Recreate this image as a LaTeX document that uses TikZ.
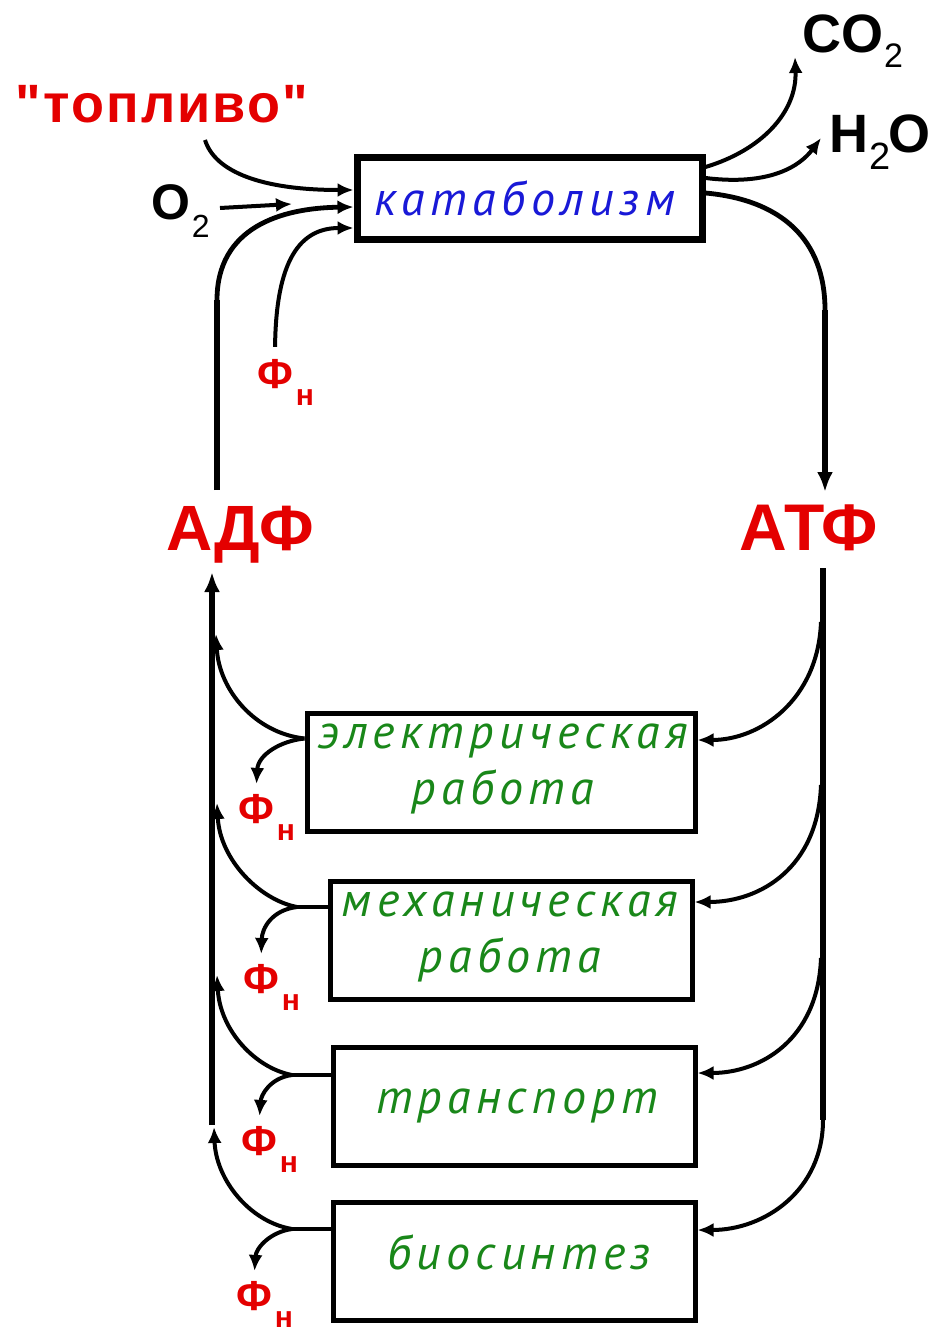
\documentclass[tikz,border=0pt]{standalone}
\usepackage{fontspec}
\setmainfont{Liberation Sans}
\newfontfamily\workfont[LetterSpace=11]{PT Sans}
\newfontfamily\katfont[LetterSpace=12]{PT Sans}
\newfontfamily\fuelfont[Ligatures=TeXOff, LetterSpace=4]{Liberation Sans}
\usetikzlibrary{arrows.meta,calc}
\definecolor{lblred}{RGB}{228,0,0}
\definecolor{katblue}{RGB}{25,25,215}
\definecolor{workgreen}{RGB}{25,135,25}

\begin{document}
\begin{tikzpicture}[x=0.5pt,y=-0.5pt,
  lbl/.style={inner sep=0pt, outer sep=0pt},
  box/.style={draw, line width=2.5pt, inner sep=0pt, minimum width=181pt, minimum height=59pt},
  wire/.style={line width=2pt},
  arr/.style={wire, -{Latex[length=8pt,width=7pt]}},
  vline/.style={line width=3.2pt},
  redbig/.style={lbl, text=lblred, font=\bfseries\fontsize{32}{32}\selectfont, anchor=base},
  fnF/.style={lbl, text=lblred, font=\bfseries\fontsize{21}{21}\selectfont, anchor=base west},
  fnS/.style={lbl, text=lblred, font=\bfseries\fontsize{15}{15}\selectfont, anchor=base west},
  chem/.style={lbl, font=\bfseries\fontsize{27}{27}\selectfont, anchor=base west},
  worktext/.style={lbl, text=workgreen, font=\workfont\itshape\fontsize{24}{28}\selectfont, align=center}
]
\useasboundingbox[fill=white] (0,0) rectangle (936,1332);

% ---- boxes ----
\node[box, line width=3.5pt, minimum width=172.5pt, minimum height=41pt] (kat) at (529.5,199) {};
\node[lbl, text=katblue, font=\katfont\itshape\fontsize{24}{24}\selectfont] (kattext) at (525,198) {катаболизм};

\node[box, minimum width=194pt] (elec) at (501,772.5) {};
\node[worktext] (electext) at (503,769) {электрическая\\работа};

\node[box] (mech) at (511,940) {};
\node[worktext] (mechtext) at (510,937) {механическая\\работа};

\node[box] (trans) at (514,1106.5) {};
\node[worktext] (transtext) at (517,1106) {транспорт};

\node[box] (bio) at (514,1261.5) {};
\node[worktext] (biotext) at (519,1252) {биосинтез};

% ---- labels ----
\node[redbig] (adf) at (240,550) {АДФ};
\node[redbig, font=\bfseries\fontsize{33}{33}\selectfont] (atf) at (809,550) {АТФ};
\node[lbl, text=lblred, font=\fuelfont\bfseries\fontsize{27}{27}\selectfont, anchor=base] (fuel) at (162,123) {"топливо"};

\node[chem, font=\bfseries\fontsize{25}{25}\selectfont] (o2) at (151,220) {O};
\node[lbl, font=\fontsize{16}{16}\selectfont, anchor=base west] (o2s) at ($(o2.base east)+(2,18)$) {2};

\node[chem] (co2) at (802,53) {CO};
\node[lbl, font=\fontsize{17}{17}\selectfont, anchor=base west] (co2s) at ($(co2.base east)+(1,15)$) {2};

\node[chem] (h2o) at (829,153) {H};
\node[lbl, font=\fontsize{19}{19}\selectfont, anchor=base west] (h2os) at ($(h2o.base east)+(1,17)$) {2};
\node[chem] (h2oO) at (888,153) {O};

% phosphate labels
\node[fnF] (fn0) at (257,388) {Ф};
\node[fnS] (fn0s) at ($(fn0.base east)+(3,17)$) {н};
\node[fnF] (fn1) at (238,823) {Ф};
\node[fnS] (fn1s) at ($(fn1.base east)+(3,17)$) {н};
\node[fnF] (fn2) at (243,993) {Ф};
\node[fnS] (fn2s) at ($(fn2.base east)+(3,17)$) {н};
\node[fnF] (fn3) at (241,1155) {Ф};
\node[fnS] (fn3s) at ($(fn3.base east)+(3,17)$) {н};
\node[fnF] (fn4) at (236,1310) {Ф};
\node[fnS] (fn4s) at ($(fn4.base east)+(3,17)$) {н};

% ---- connection points ----
\coordinate (fuelout) at (205,140);
\coordinate (o2out) at (220,208);
\coordinate (o2in) at (292,204);
\coordinate (adfup) at (217,490);
\coordinate (lbend) at (217,300);
\coordinate (atpbend) at (825,310);
\coordinate (atpin) at (825,492);
\coordinate (atfdown) at (823,568);
\coordinate (rvbot) at (823,1120);
\coordinate (r1) at (821,622);
\coordinate (r2) at (821,785);
\coordinate (r3) at (821,958);
\coordinate (lvbot) at (212,1125);
\coordinate (lvtop) at (212,572);
\coordinate (m1) at (216,634);
\coordinate (m2) at (217,803);
\coordinate (m3) at (217,975);
\coordinate (m4) at (214,1127);
\coordinate (j1) at ($(elec.west)+(0,-34)$);
\coordinate (j2) at (297,907);
\coordinate (j3) at (292,1075);
\coordinate (j4) at (292,1229);

% ---- catabolism inputs ----
\draw[arr] (fuelout) .. controls (215,172) and (262,190) .. ($(kat.west)+(0,-9)$);
\draw[arr] (o2out) -- (o2in);
\draw[vline] (adfup) -- (lbend);
\draw[arr, line width=2.4pt] (lbend) .. controls (217,228) and (280,208) .. ($(kat.west)+(0,8)$);
\draw[arr, shorten <=6pt] (fn0.north) .. controls (276,260) and (300,228) .. ($(kat.west)+(0,29)$);

% ---- catabolism outputs ----
\draw[arr] ($(kat.east)+(0,-32)$) .. controls (762,150) and (797,112) .. (795,57);
\draw[arr] ($(kat.east)+(0,-21)$) .. controls (770,186) and (800,166) .. (821,138);
\draw[wire, line width=2.4pt] ($(kat.east)+(0,-6)$) .. controls (782,200) and (825,240) .. (atpbend);
\draw[vline, -{Latex[length=10pt,width=8pt]}] (atpbend) -- (atpin);

% ---- ATP distribution ----
\draw[vline] (atfdown) -- (rvbot);
\draw[arr] (r1) .. controls (818,700) and (760,740) .. ($(elec.east)+(0,-32.5)$);
\draw[arr] (r2) .. controls (818,868) and (760,902) .. ($(mech.east)+(0,-38)$);
\draw[arr] (r3) .. controls (818,1040) and (760,1073) .. ($(trans.east)+(0,-33.5)$);
\draw[arr] (rvbot) .. controls (823,1190) and (765,1230) .. ($(bio.east)+(0,-31.5)$);

% ---- ADP return ----
\draw[vline, -{Latex[length=10pt,width=8pt]}] (lvbot) -- (lvtop);

\draw[arr] (j1) .. controls (255,733) and (219,690) .. (m1);
\draw[arr, shorten >=5pt] (j1) .. controls (280,741) and (258,755) .. (fn1.north);

\draw[wire] ($(mech.west)+(0,-33)$) -- (j2);
\draw[arr] (j2) .. controls (260,900) and (220,860) .. (m2);
\draw[arr, shorten >=5pt] (j2) .. controls (272,910) and (262,928) .. (fn2.north);

\draw[wire] ($(trans.west)+(0,-31.5)$) -- (j3);
\draw[arr] (j3) .. controls (255,1068) and (220,1030) .. (m3);
\draw[arr, shorten >=5pt] (j3) .. controls (270,1078) and (261,1095) .. (fn3.north);

\draw[wire] ($(bio.west)+(0,-32.5)$) -- (j4);
\draw[arr] (j4) .. controls (250,1222) and (216,1180) .. (m4);
\draw[arr, shorten >=5pt] (j4) .. controls (270,1232) and (256,1248) .. (fn4.north);
\end{tikzpicture}
\end{document}
